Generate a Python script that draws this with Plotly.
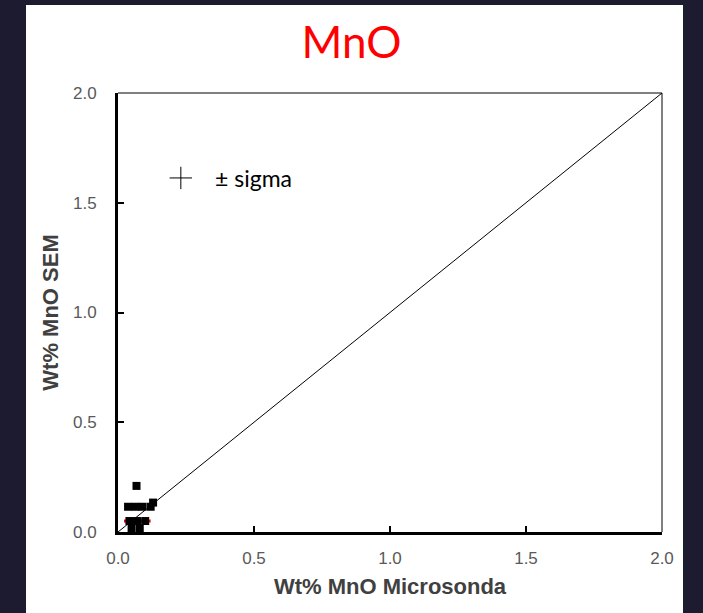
import plotly.graph_objects as go

# Data
x_sem = [0.068, 0.037, 0.064, 0.09, 0.12, 0.129, 0.042, 0.07, 0.10, 0.05, 0.08]
y_sem = [0.21, 0.115, 0.115, 0.115, 0.115, 0.134, 0.05, 0.05, 0.05, 0.018, 0.018]
err_x = [0, 0, 0, 0, 0, 0, 0.02, 0.03, 0.02, 0, 0]
line_xy = [0.0, 2.0]
legend_x = [0.231]
legend_y = [1.613]
tick_vals = [0.0, 0.5, 1.0, 1.5, 2.0]
tick_text = ["0.0", "0.5", "1.0", "1.5", "2.0"]

fig = go.Figure()
fig.add_trace(go.Scatter(x=line_xy, y=line_xy, mode="lines",
                         line=dict(color="black", width=1), showlegend=False,
                         hoverinfo="skip"))
fig.add_trace(go.Scatter(x=x_sem, y=y_sem, mode="markers",
                         marker=dict(symbol="square", size=8, color="black"),
                         error_x=dict(type="data", array=err_x, color="red",
                                      thickness=3, width=0),
                         cliponaxis=False, showlegend=False))
fig.add_trace(go.Scatter(x=legend_x, y=legend_y, mode="markers",
                         marker=dict(symbol="cross-thin", size=16,
                                     line=dict(color="black", width=1)),
                         showlegend=False))
fig.add_annotation(x=0.348, y=legend_y[0], xref="x", yref="y", text="± sigma",
                   showarrow=False, xanchor="left", yanchor="middle",
                   font=dict(family="Lato", size=23, color="black"))

axis_common = dict(range=[0, 2], tickvals=tick_vals, ticktext=tick_text,
                   showgrid=False, zeroline=False, showline=True,
                   linecolor="black", linewidth=3, ticks="inside",
                   ticklen=6, tickwidth=2, tickcolor="black",
                   tickfont=dict(family="Liberation Sans", size=17, color="#595959"))

fig.update_xaxes(**axis_common, ticklabelstandoff=9,
                 title=dict(text="<b>Wt% MnO Microsonda</b>", standoff=12,
                            font=dict(family="Liberation Sans", size=22, color="#404040")))
fig.update_yaxes(**axis_common, ticklabelstandoff=15,
                 title=dict(text="<b>Wt% MnO SEM</b>", standoff=9,
                            font=dict(family="Liberation Sans", size=22, color="#404040")))

fig.update_layout(
    width=703, height=613,
    margin=dict(l=118, r=41, t=93, b=81),
    paper_bgcolor="#1d1b30", plot_bgcolor="white",
    title=dict(text="MnO", x=0.5, xanchor="center", y=1 - 43 / 613, yanchor="middle",
               font=dict(family="Lato", size=44, color="#ff0000")),
    shapes=[
        dict(type="rect", xref="paper", yref="paper", x0=-0.1691, x1=1.0386,
             y0=-0.1845, y1=1.2005, fillcolor="white", line=dict(width=0),
             layer="below"),
        dict(type="line", xref="paper", yref="paper", x0=0, x1=1, y0=1, y1=1,
             line=dict(color="black", width=1)),
        dict(type="line", xref="paper", yref="paper", x0=1, x1=1, y0=0, y1=1,
             line=dict(color="black", width=1)),
    ],
)

fig.write_html("out.html", config={"displayModeBar": False},
               post_script="document.body.style.margin='0';")
